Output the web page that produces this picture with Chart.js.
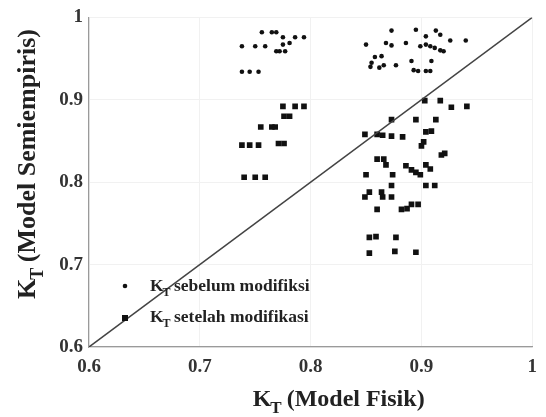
<!DOCTYPE html>
<html>
<head>
<meta charset="utf-8">
<script src="https://cdn.jsdelivr.net/npm/chart.js@4.4.1/dist/chart.umd.min.js"></script>
<style>
  html, body { margin: 0; padding: 0; background: #fff; }
</style>
</head>
<body>
<canvas id="chart" width="546" height="417"></canvas>
<script>
// K_T values: x = model fisik, y = model semiempiris
const sebelumX = [0.738, 0.750, 0.759, 0.756, 0.765, 0.769, 0.775, 0.786, 0.794, 0.775, 0.781, 0.769, 0.772, 0.777, 0.738, 0.745, 0.753,
  0.873, 0.895, 0.904, 0.913, 0.917, 0.926, 0.940, 0.850, 0.868, 0.873, 0.886, 0.899, 0.904, 0.908, 0.912, 0.917, 0.920,
  0.855, 0.858, 0.864, 0.862, 0.854, 0.866, 0.877, 0.891, 0.893, 0.897, 0.904, 0.908, 0.909]
const sebelumY = [0.965, 0.965, 0.965, 0.982, 0.982, 0.982, 0.976, 0.976, 0.976, 0.967, 0.969, 0.959, 0.959, 0.959, 0.934, 0.934, 0.934,
  0.984, 0.985, 0.977, 0.984, 0.979, 0.972, 0.972, 0.967, 0.969, 0.966, 0.969, 0.965, 0.967, 0.965, 0.963, 0.960, 0.959,
  0.945, 0.952, 0.953, 0.939, 0.940, 0.942, 0.942, 0.947, 0.936, 0.935, 0.935, 0.935, 0.947]

const setelahX = [0.775, 0.786, 0.794, 0.776, 0.781, 0.755, 0.765, 0.768, 0.738, 0.745, 0.753, 0.771, 0.776, 0.740, 0.750, 0.759,
  0.903, 0.917, 0.927, 0.941, 0.873, 0.895, 0.913, 0.849, 0.860, 0.865, 0.873, 0.883, 0.904, 0.909, 0.902, 0.900,
  0.918, 0.921, 0.860, 0.866, 0.868, 0.850, 0.874, 0.886, 0.891, 0.895, 0.899, 0.904, 0.908, 0.873, 0.904, 0.912,
  0.853, 0.849, 0.864, 0.865, 0.873, 0.860, 0.882, 0.887, 0.891, 0.897, 0.853, 0.859, 0.877, 0.853, 0.876, 0.895]
const setelahY = [0.892, 0.892, 0.892, 0.880, 0.880, 0.867, 0.867, 0.867, 0.845, 0.845, 0.845, 0.847, 0.847, 0.806, 0.806, 0.806,
  0.899, 0.899, 0.891, 0.892, 0.876, 0.876, 0.876, 0.858, 0.858, 0.857, 0.856, 0.855, 0.861, 0.862, 0.849, 0.844,
  0.833, 0.835, 0.828, 0.828, 0.821, 0.809, 0.809, 0.820, 0.815, 0.812, 0.809, 0.821, 0.816, 0.796, 0.796, 0.796,
  0.788, 0.782, 0.788, 0.782, 0.782, 0.767, 0.767, 0.768, 0.773, 0.773, 0.733, 0.734, 0.733, 0.714, 0.716, 0.715]

const axisMin = 0.6
const axisMax = 1
const tickValues = [0.6, 0.7, 0.8, 0.9, 1]
const legendLabels = ["sebelum modifiksi", "setelah modifikasi"]
const xTitle = "(Model Fisik)"
const yTitle = "(Model Semiempiris)"

const toPoints = (xs, ys) => xs.map((x, i) => ({x: x, y: ys[i]}))

const FONT = "'Liberation Serif', 'Times New Roman', serif"
const INK = "#222"

// K with a subscript T, then the rest of the text
const drawKT = (ctx, x, y, size, rest) => {
  ctx.font = `bold ${size}px ${FONT}`
  ctx.textBaseline = "alphabetic"
  ctx.textAlign = "left"
  ctx.fillText("K", x, y)
  let kw = ctx.measureText("K").width
  ctx.font = `bold ${Math.round(size * 0.7)}px ${FONT}`
  ctx.fillText("T", x + kw - 1, y + size * 0.3)
  let tw = ctx.measureText("T").width
  ctx.font = `bold ${size}px ${FONT}`
  ctx.fillText(" " + rest, x + kw + tw - 2, y)
}

const textWidthKT = (ctx, size, rest) => {
  ctx.font = `bold ${size}px ${FONT}`
  let kw = ctx.measureText("K").width
  let w2 = ctx.measureText(" " + rest).width
  ctx.font = `bold ${Math.round(size * 0.7)}px ${FONT}`
  let tw = ctx.measureText("T").width
  return kw + tw - 2 + w2
}

const decorations = {
  id: "decorations",
  afterDraw(chart) {
    let ctx = chart.ctx
    let area = chart.chartArea
    ctx.save()
    ctx.fillStyle = INK

    // x title
    let size = 24
    let w = textWidthKT(ctx, size, xTitle)
    drawKT(ctx, (area.left + area.right) / 2 - w / 2 + 28, 406, size, xTitle)

    // y title, rotated
    ctx.save()
    ctx.translate(35, 164)
    ctx.rotate(-Math.PI / 2)
    w = textWidthKT(ctx, 26, yTitle)
    drawKT(ctx, -w / 2, 0, 26, yTitle)
    ctx.restore()

    // legend
    ctx.fillStyle = "#111"
    ctx.beginPath()
    ctx.arc(125, 286, 2.3, 0, Math.PI * 2)
    ctx.fill()
    ctx.fillRect(122, 315, 6, 6)
    ctx.fillStyle = INK
    drawKT(ctx, 150, 291, 17.5, legendLabels[0])
    drawKT(ctx, 150, 322, 17.5, legendLabels[1])
    ctx.restore()
  }
}

const scaleOptions = (isX) => ({
  type: "linear",
  min: axisMin,
  max: axisMax,
  afterBuildTicks: (scale) => { scale.ticks = tickValues.map(v => ({value: v})) },
  afterFit: (scale) => {
    if (isX) scale.height = 70
    else scale.width = 89
  },
  border: {display: true, color: "#9a9a9a", width: 1.2},
  grid: {color: "#f1f1f1", lineWidth: 1, drawTicks: false},
  ticks: {
    color: "#333",
    padding: isX ? 9 : 6,
    font: {family: FONT, size: 19, weight: "bold"},
    callback: (v) => String(v)
  }
})

new Chart(document.getElementById("chart"), {
  type: "scatter",
  data: {
    datasets: [
      {
        label: "diagonal",
        type: "line",
        data: [{x: axisMin, y: axisMin}, {x: axisMax, y: axisMax}],
        borderColor: "#444",
        borderWidth: 1.5,
        pointRadius: 0,
        fill: false
      },
      {
        label: legendLabels[0],
        data: toPoints(sebelumX, sebelumY),
        pointStyle: "circle",
        pointRadius: 2.3,
        backgroundColor: "#111",
        borderWidth: 0
      },
      {
        label: legendLabels[1],
        data: toPoints(setelahX, setelahY),
        pointStyle: "rect",
        pointRadius: 4,
        backgroundColor: "#111",
        borderWidth: 0
      }
    ]
  },
  options: {
    responsive: false,
    devicePixelRatio: 1,
    animation: false,
    layout: {padding: {top: 14, right: 5, left: 0, bottom: 0}},
    plugins: {legend: {display: false}, tooltip: {enabled: false}},
    scales: {x: scaleOptions(true), y: scaleOptions(false)}
  },
  plugins: [decorations]
})
</script>
</body>
</html>
